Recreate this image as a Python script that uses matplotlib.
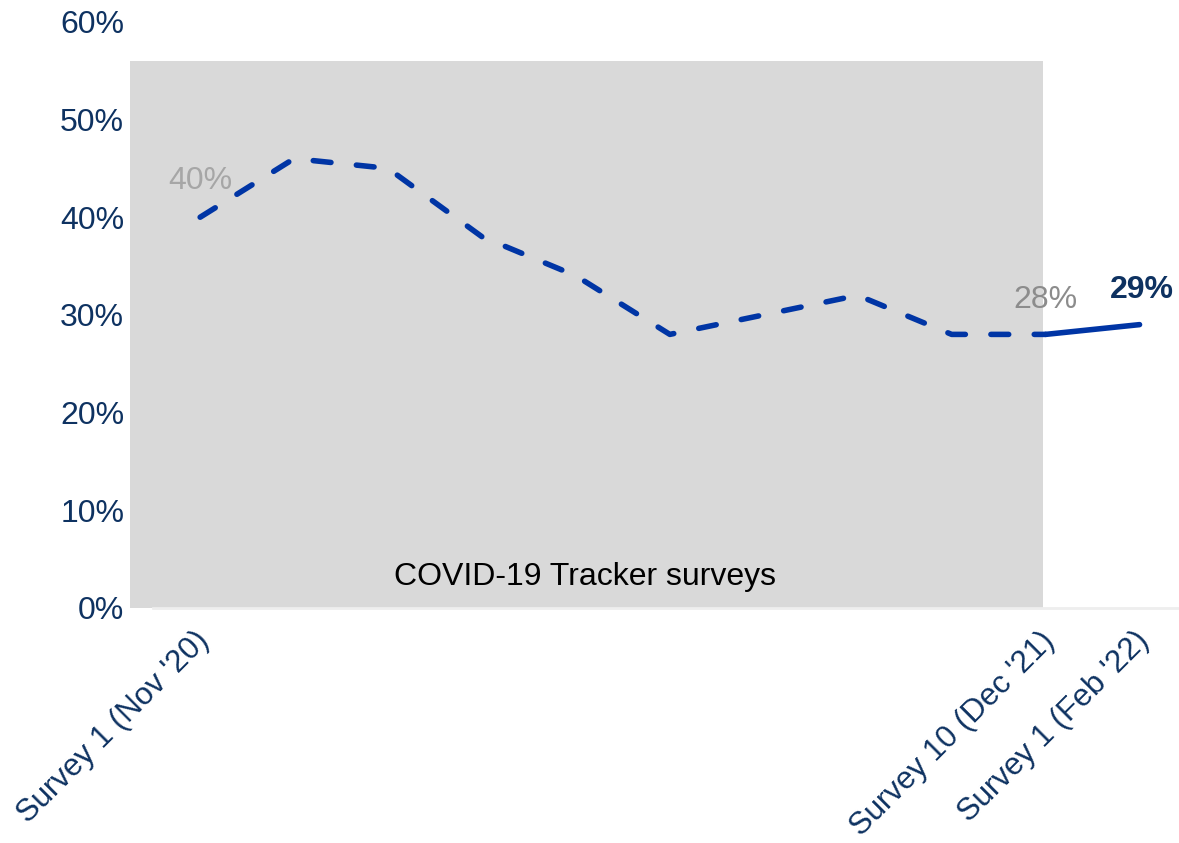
import matplotlib.pyplot as plt
from matplotlib.transforms import ScaledTranslation

plt.rcParams['font.family'] = ['Liberation Sans', 'DejaVu Sans']

# survey waves: COVID-19 tracker (1-10) then the new survey wave
waves = list(range(11))
values = [40, 46, 45, 38, 34, 28, 30, 32, 28, 28, 29]
tick_pos = [0, 9, 10]
tick_labels = ["Survey 1 (Nov '20)", "Survey 10 (Dec '21)", "Survey 1 (Feb '22)"]
band_label = "COVID-19 Tracker surveys"

navy = '#0e3261'
blue = '#0035a5'

fig = plt.figure(figsize=(11.79, 8.43), dpi=100)
ax = fig.add_axes([0.110, 0.279, 0.890, 0.695])

ax.axvspan(-0.75, 8.97, ymin=0, ymax=56 / 60, color='#d9d9d9', zorder=0, lw=0)
ax.plot([-0.5, 10.45], [0, 0], color='#eeeeee', lw=2, zorder=1, clip_on=False)

# tracker waves dashed, the new wave solid
ax.plot(waves[:10], values[:10], color=blue, lw=4, ls=(0, (3.2, 4.6)),
        dash_capstyle='round', solid_joinstyle='round', zorder=3)
ax.plot(waves[9:], values[9:], color=blue, lw=4, solid_capstyle='round', zorder=3)

ax.text(waves[0], values[0] + 2.2, f'{values[0]}%', color='#a6a6a6', fontsize=23,
        ha='center', va='bottom')
ax.text(waves[9], values[9] + 2, f'{values[9]}%', color='#8c8c8c', fontsize=23,
        ha='center', va='bottom')
ax.text(waves[10] + 0.02, values[10] + 2, f'{values[10]}%', color=navy, fontsize=23,
        fontweight='bold', ha='center', va='bottom')

ax.text(4.1, 1.6, band_label, color='black', fontsize=23, ha='center', va='bottom')

ax.set_xlim(-0.75, 10.42)
ax.set_ylim(0, 60)
ax.set_yticks(range(0, 61, 10))
ax.set_yticklabels([f'{v}%' for v in range(0, 61, 10)])
ax.set_xticks(tick_pos)
ax.set_xticklabels(tick_labels, rotation=45, ha='right', rotation_mode='anchor')
ax.tick_params(axis='y', length=0, pad=4, labelsize=23, labelcolor=navy)
ax.tick_params(axis='x', length=0, pad=13, labelsize=22.5, labelcolor=navy)

# nudge the slanted labels a little to the left
shift = ScaledTranslation(-6 / 100, 0, fig.dpi_scale_trans)
for lbl in ax.get_xticklabels():
    lbl.set_transform(lbl.get_transform() + shift)

for s in ax.spines.values():
    s.set_visible(False)
ax.set_facecolor('none')

fig.savefig('out.png', dpi=100)
